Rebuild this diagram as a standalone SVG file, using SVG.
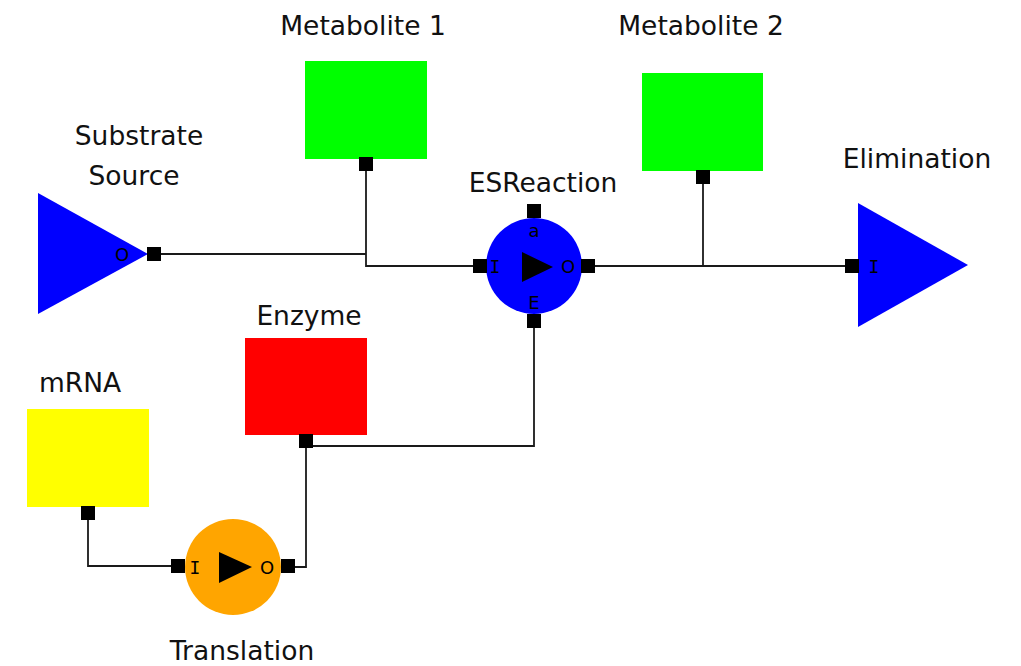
<svg xmlns="http://www.w3.org/2000/svg" width="1021" height="666" viewBox="0 0 1021 666">
  <style>
    .label { font-family: "DejaVu Sans", Verdana, sans-serif; font-size: 26.5px; fill: #111; text-anchor: middle; }
    .pin { font-family: "DejaVu Sans", Verdana, sans-serif; font-size: 18px; fill: #000; text-anchor: middle; }
    .pin.mono { font-family: "DejaVu Sans Mono", "Liberation Mono", monospace; font-size: 18px; }
    .port { fill: #000; }
    .wire { fill: none; stroke: #1a1a1a; stroke-width: 1.8; }
    .play { fill: #000; }
  </style>
  <defs>
    <rect id="port" class="port" x="-7" y="-7" width="14" height="14"/>
  </defs>
  <rect width="1021" height="666" fill="#fff"/>

  <g id="connectors">
    <!-- Substrate source joins the Metabolite 1 branch -->
    <polyline class="wire" points="161,254 366,254"/>
    <polyline class="wire" points="366,171 366,266 473,266"/>
    <!-- reaction output to elimination, Metabolite 2 branch -->
    <polyline class="wire" points="595,266 845,266"/>
    <polyline class="wire" points="703,183 703,266"/>
    <!-- enzyme to reaction modifier port -->
    <polyline class="wire" points="313,446 534,446 534,328"/>
    <!-- translation output to enzyme -->
    <polyline class="wire" points="306,447 306,567 295,567"/>
    <!-- mRNA to translation input -->
    <polyline class="wire" points="88,519 88,566 171,566"/>
  </g>

  <g id="substrate-source">
    <text class="label" x="139" y="145">Substrate</text>
    <text class="label" x="134" y="185">Source</text>
    <polygon points="38,193 148,254 38,314" fill="#0000ff"/>
    <text class="pin" x="122" y="261">O</text>
    <use href="#port" x="154" y="254"/>
  </g>

  <g id="metabolite-1">
    <text class="label" x="363" y="35">Metabolite 1</text>
    <rect x="305" y="61" width="122" height="98" fill="#00ff00"/>
    <use href="#port" x="366" y="164"/>
  </g>

  <g id="metabolite-2">
    <text class="label" x="701" y="35">Metabolite 2</text>
    <rect x="642" y="73" width="121" height="98" fill="#00ff00"/>
    <use href="#port" x="703" y="177"/>
  </g>

  <g id="es-reaction">
    <text class="label" x="543" y="192">ESReaction</text>
    <circle cx="534" cy="266" r="48" fill="#0000ff"/>
    <polygon class="play" points="522,252 553,267 522,282"/>
    <text class="pin" x="534" y="237">a</text>
    <text class="pin mono" x="495" y="273">I</text>
    <text class="pin" x="568" y="273">O</text>
    <text class="pin" x="534" y="309">E</text>
    <use href="#port" x="480" y="266"/>
    <use href="#port" x="588" y="266"/>
    <use href="#port" x="534" y="211"/>
    <use href="#port" x="534" y="321"/>
  </g>

  <g id="elimination">
    <text class="label" x="917" y="168">Elimination</text>
    <polygon points="858,203 968,265 858,327" fill="#0000ff"/>
    <text class="pin mono" x="874" y="273">I</text>
    <use href="#port" x="852" y="266"/>
  </g>

  <g id="enzyme">
    <text class="label" x="309" y="325">Enzyme</text>
    <rect x="245" y="338" width="122" height="97" fill="#ff0000"/>
    <use href="#port" x="306" y="441"/>
  </g>

  <g id="mrna">
    <text class="label" x="80" y="392">mRNA</text>
    <rect x="27" y="409" width="122" height="98" fill="#ffff00"/>
    <use href="#port" x="88" y="513"/>
  </g>

  <g id="translation">
    <circle cx="233" cy="567" r="48" fill="#ffa500"/>
    <polygon class="play" points="219,552 252,567 219,583"/>
    <text class="pin mono" x="195" y="574">I</text>
    <text class="pin" x="267" y="574">O</text>
    <use href="#port" x="178" y="566"/>
    <use href="#port" x="288" y="566"/>
    <text class="label" x="242" y="660">Translation</text>
  </g>
</svg>
